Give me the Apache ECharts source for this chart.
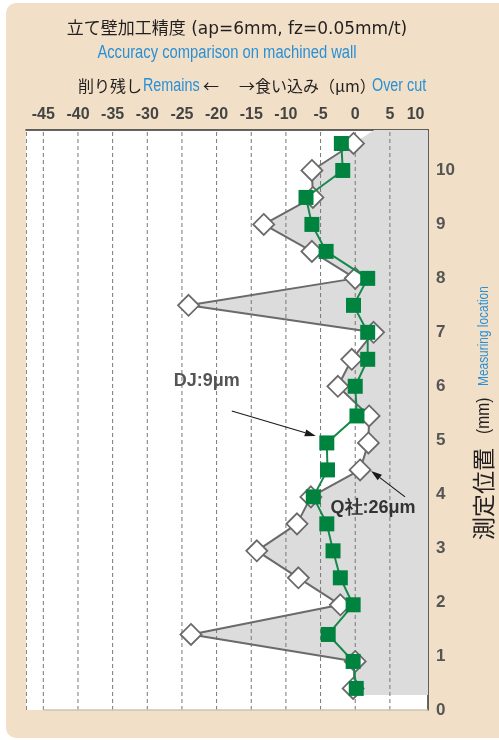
<!DOCTYPE html>
<html><head><meta charset="utf-8">
<script src="https://cdn.jsdelivr.net/npm/echarts@6/dist/echarts.min.js"></script>
<style>html,body{margin:0;padding:0;background:#fff;}#c{width:499px;height:740px;}</style>
</head><body><div id="c"></div>
<script>
// ---- data ----
const positions = [10.5,10,9.5,9,8.5,8,7.5,7,6.5,6,5.45,4.95,4.45,3.95,3.45,2.95,2.45,1.95,1.4,0.9,0.4];
const qValues   = [-0.25,-6.25,-6.1,-13.2,-6.25,0,-24.05,2.65,-0.5,-2.5,2.0,1.9,0.7,-6.4,-8.4,-14.2,-8.2,-2.15,-23.7,0,-0.3];
const djValues  = [-2.0,-1.8,-7.1,-6.25,-4.2,1.8,-0.25,1.8,1.8,0,0.25,-4.1,-4.0,-6.05,-4.1,-3.2,-2.15,-0.3,-3.9,-0.3,0.15];
const xTickLabels = [-45,-40,-35,-30,-25,-20,-15,-10,-5,0,5,10];
const gridLines = [-45,-40,-35,-30,-25,-20,-15,-10,-5,0,5];
const yTickLabels = [0,1,2,3,4,5,6,7,8,9,10];
const xMin = -47.5, xMax = 10.5, yMin = 0, yMax = 10.75;
const fillBottom = 0.28;
const djIdx = 11, qIdx = 12; // annotated points

const LAT = '"Liberation Sans", Arial, sans-serif';
const CJK = '"Noto Sans CJK JP", sans-serif';
const TTL = '"DejaVu Sans", "Noto Sans CJK JP", sans-serif';
const BLUE = '#2a8fd4';
const NARROW = 0.82;

const chart = echarts.init(document.getElementById('c'));

function renderFill(params, api){
  const n = positions.length;
  const slope = (qValues[0]-qValues[1])/(positions[0]-positions[1]);
  const xTop = qValues[0] + (yMax - positions[0]) * slope;
  const pts = [api.coord([xTop, yMax])];
  for (let i = 0; i < n; i++) pts.push(api.coord([qValues[i], positions[i]]));
  pts.push(api.coord([qValues[n-1], fillBottom]));
  pts.push(api.coord([xMax, fillBottom]));
  pts.push(api.coord([xMax, yMax]));
  return {type:'polygon', shape:{points:pts}, style:{fill:'#dcdcdd'}};
}
function renderGrid(params, api){
  const children = gridLines.map(v => {
    const a = api.coord([v, yMin]), b = api.coord([v, yMax]);
    return {type:'line', shape:{x1:a[0], y1:a[1], x2:b[0], y2:b[1]},
      style:{stroke:'#777', lineWidth:1, lineDash:[4,3]}};
  });
  const l0 = api.coord([xMin, yMin]), l1 = api.coord([xMin, yMax]);
  children.push({type:'line', shape:{x1:l0[0]+0.5, y1:l0[1], x2:l1[0]+0.5, y2:l1[1]},
    style:{stroke:'#888', lineWidth:1, lineDash:[4,3]}});
  const b0 = api.coord([gridLines[0], yMin]), b1 = api.coord([xMax, yMin]);
  children.push({type:'line', shape:{x1:b0[0], y1:b0[1], x2:b1[0], y2:b1[1]},
    style:{stroke:'#cbc3b6', lineWidth:1.5}});
  return {type:'group', children};
}

chart.setOption({
  animation: false,
  grid: {left: 26, right: 71, top: 130, bottom: 30, show: true, backgroundColor: '#fff', borderWidth: 0},
  xAxis: {
    type: 'value', position: 'top', min: xMin, max: xMax, interval: 2.5,
    axisLine: {show: true, onZero: false, lineStyle: {color: '#333', width: 1.5}},
    axisTick: {show: false}, splitLine: {show: false},
    axisLabel: {
      margin: 7, fontFamily: LAT, fontWeight: 'bold', fontSize: 16, color: '#444',
      formatter: v => {
        if (!xTickLabels.includes(v)) return '';
        if (v === xTickLabels[xTickLabels.length-1]) return '{s|' + v + '}';
        return String(v);
      },
      rich: {s: {fontFamily: LAT, fontWeight: 'bold', fontSize: 16, color: '#444', padding: [0, 18, 0, 0]}}
    }
  },
  yAxis: {
    type: 'value', position: 'right', min: yMin, max: yMax, interval: 1,
    axisLine: {show: true, onZero: false, lineStyle: {color: '#333', width: 1.5}},
    axisTick: {show: false}, splitLine: {show: false},
    axisLabel: {
      margin: 8, fontFamily: LAT, fontWeight: 'bold', fontSize: 17, color: '#555',
      formatter: v => yTickLabels.includes(v) ? String(v) : ''
    }
  },
  series: [
    {type: 'custom', name: 'fill', z: 1, clip: false, silent: true, data: [[0, 0]], renderItem: renderFill},
    {type: 'custom', name: 'grid', z: 2, clip: false, silent: true, data: [[0, 0]], renderItem: renderGrid},
    {type: 'line', name: 'Q社', z: 3, data: positions.map((p, i) => [qValues[i], p]),
      symbol: 'diamond', symbolSize: 21,
      itemStyle: {color: '#fff', borderColor: '#6a6a6a', borderWidth: 1.8},
      lineStyle: {color: '#6a6a6a', width: 2}},
    {type: 'line', name: 'DJ', z: 4, data: positions.map((p, i) => [djValues[i], p]),
      symbol: 'rect', symbolSize: 15,
      itemStyle: {color: '#00833f'},
      lineStyle: {color: '#16894a', width: 2}}
  ]
});

function arrow(id, s, t){
  const dx = t[0]-s[0], dy = t[1]-s[1], L = Math.hypot(dx, dy);
  const ux = dx/L, uy = dy/L, nx = -uy, ny = ux;
  const bx = t[0]-ux*11, by = t[1]-uy*11;
  return [
    {type:'line', id:id+'l', z:50, shape:{x1:s[0], y1:s[1], x2:bx, y2:by}, style:{stroke:'#1a1a1a', lineWidth:1.1}},
    {type:'polygon', id:id+'h', z:50, shape:{points:[[t[0],t[1]],[bx+nx*3.5,by+ny*3.5],[bx-nx*3.5,by-ny*3.5]]}, style:{fill:'#1a1a1a'}}
  ];
}

const pDJ = chart.convertToPixel({gridIndex: 0}, [djValues[djIdx], positions[djIdx]]);
const pQ  = chart.convertToPixel({gridIndex: 0}, [qValues[qIdx], positions[qIdx]]);

const g = [
  {type:'rect', id:'bg', z:-100, shape:{x:6, y:3, width:520, height:735, r:10}, style:{fill:'#f1e0c7'}},
  {type:'text', id:'t1', z:100, x:237, y:30, style:{text:'立て壁加工精度 (ap=6mm, fz=0.05mm/t)', font:'17px ' + TTL, fill:'#231f20', textAlign:'center', textVerticalAlign:'middle'}},
  {type:'text', id:'t2', z:100, x:227, y:53, scaleX:NARROW, style:{text:'Accuracy comparison on machined wall', font:'18px ' + LAT, fill:BLUE, textAlign:'center', textVerticalAlign:'middle'}},
  {type:'text', id:'h1', z:100, x:78, y:86, style:{text:'削り残し', font:'16px ' + CJK, fill:'#231f20', textVerticalAlign:'middle'}},
  {type:'text', id:'h2', z:100, x:143, y:86, scaleX:NARROW, style:{text:'Remains', font:'17.5px ' + LAT, fill:BLUE, textVerticalAlign:'middle'}},
  {type:'text', id:'h3', z:100, x:203, y:86, style:{text:'←', font:'16px ' + CJK, fill:'#231f20', textVerticalAlign:'middle'}},
  {type:'text', id:'h4', z:100, x:239, y:86, style:{text:'→食い込み（μm）', font:'16px ' + CJK, fill:'#231f20', textVerticalAlign:'middle'}},
  {type:'text', id:'h5', z:100, x:372, y:86, scaleX:NARROW, style:{text:'Over cut', font:'17.5px ' + LAT, fill:BLUE, textVerticalAlign:'middle'}},
  {type:'text', id:'yn1', z:100, x:483, y:540, rotation:Math.PI/2, style:{text:'測定位置', font:'23px ' + CJK, fill:'#231f20', textAlign:'left', textVerticalAlign:'middle'}},
  {type:'text', id:'yn2', z:100, x:484, y:434, rotation:Math.PI/2, scaleX:NARROW, style:{text:'(mm)', font:'19px ' + LAT, fill:'#231f20', textAlign:'left', textVerticalAlign:'middle'}},
  {type:'text', id:'yn3', z:100, x:484, y:386, rotation:Math.PI/2, scaleX:NARROW, style:{text:'Measuring location', font:'14.5px ' + LAT, fill:BLUE, textAlign:'left', textVerticalAlign:'middle'}},
  {type:'text', id:'djl', z:100, x:pDJ[0]-120, y:pDJ[1]-62, style:{text:'DJ:9μm', font:'bold 18px ' + LAT, fill:'#555', textAlign:'center', textVerticalAlign:'middle'}},
  {type:'text', id:'ql', z:100, x:pQ[0]+13, y:pQ[1]+38, style:{text:'Q社:26μm', font:'bold 18px ' + LAT, fill:'#333', textAlign:'center', textVerticalAlign:'middle'}}
].concat(
  arrow('a1', [pDJ[0]-95, pDJ[1]-32], [pDJ[0]-11, pDJ[1]-7]),
  arrow('a2', [pQ[0]+45, pQ[1]+27], [pQ[0]+11, pQ[1]+1])
);
chart.setOption({graphic: g});
</script></body></html>
